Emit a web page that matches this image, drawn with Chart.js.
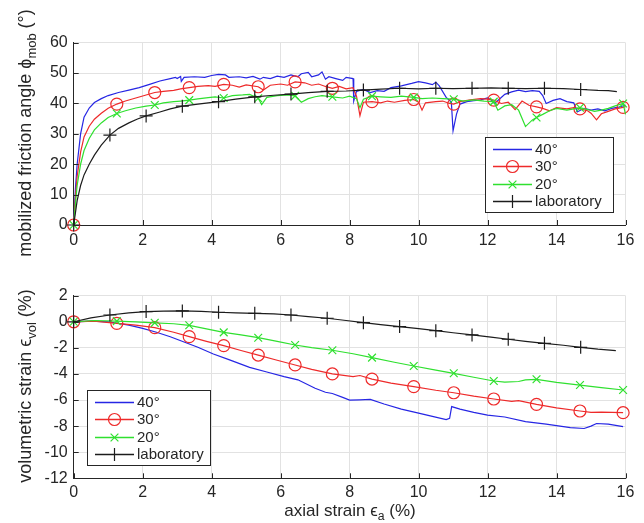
<!DOCTYPE html>
<html>
<head>
<meta charset="utf-8">
<script src="https://cdn.jsdelivr.net/npm/chart.js@4.4.0/dist/chart.umd.min.js"></script>
<style>
  body { margin: 0; background: #fff; font-family: "Liberation Sans", Arial, sans-serif; color: #262626; }
  #wrap { position: relative; width: 644px; height: 523px; overflow: hidden; }
  .panel { position: absolute; left: 0; width: 644px; }
  .title { position: absolute; font-size: 17px; white-space: nowrap; line-height: 1; }
  .ytitle { font-size: 18px; transform: translate(-50%, -50%) rotate(-90deg); }
  .xtitle { transform: translate(-50%, -50%); }
  .title sub { font-size: 72%; vertical-align: -0.35em; line-height: 0; }
</style>
</head>
<body>
<div id="wrap">
  <div class="panel" style="top:0;height:260px"><canvas id="phiChart"></canvas></div>
  <div class="panel" style="top:260px;height:263px"><canvas id="volChart"></canvas></div>
  <div class="title ytitle" style="left:25px;top:133px">mobilized friction angle ϕ<sub>mob</sub> (°)</div>
  <div class="title ytitle" style="left:25px;top:386px">volumetric strain ϵ<sub>vol</sub> (%)</div>
  <div class="title xtitle" style="left:350px;top:510px">axial strain ϵ<sub>a</sub> (%)</div>
</div>
<script>
const seriesNames = ['40°', '30°', '20°', 'laboratory'];

// strain values where markers sit on the curves
const simMarks = [0, 1.25, 2.35, 3.35, 4.35, 5.35, 6.42, 7.5, 8.65, 9.86, 11.02, 12.18, 13.42, 14.68, 15.93];
const labMarks = [0, 1.05, 2.1, 3.15, 4.2, 5.25, 6.3, 7.35, 8.4, 9.45, 10.5, 11.55, 12.6, 13.65, 14.7];

// mobilized friction angle (deg) vs axial strain (%)
const phi40X = [0, 0.05, 0.1, 0.2, 0.3, 0.45, 0.6, 0.8, 1.0, 1.3, 1.6, 1.9, 2.2, 2.5, 2.8, 2.95, 3.0, 3.1, 3.12, 3.2,
  3.5, 3.8, 4.0, 4.2, 4.4, 4.5, 4.8, 5.0, 5.2, 5.4, 5.5, 5.7, 5.9, 6.1, 6.3, 6.5, 6.6, 6.8, 6.9, 7.1,
  7.2, 7.3, 7.4, 7.6, 7.8, 7.9, 8.1, 8.12, 8.2, 8.4, 8.6, 8.8, 9.0, 9.2, 9.5, 9.8, 10.0, 10.2, 10.4, 10.5,
  10.6, 10.8, 10.95, 11.0, 11.1, 11.2, 11.4, 11.6, 11.8, 12.0, 12.1, 12.2, 12.3, 12.5, 12.7, 12.9, 13.1, 13.3, 13.5, 13.6,
  13.7, 13.9, 14.1, 14.3, 14.5, 14.6, 14.8, 15.0, 15.2, 15.4, 15.6, 15.8, 16.0];
const phi40Y = [0, 12, 20, 30, 35.5, 38.5, 40.3, 41.6, 42.6, 43.6, 44.4, 45.2, 46.3, 47.4, 48.2, 48.6, 48.2, 48.9, 47.3, 48.6,
  48.8, 48.6, 49.2, 49.6, 49.4, 48.6, 48.8, 48.4, 48.9, 48.0, 48.6, 48.2, 49.0, 48.6, 49.4, 48.8, 49.8, 50.2, 48.8, 49.4,
  50.4, 48.0, 48.8, 48.2, 47.6, 48.6, 48.2, 40.8, 44.0, 44.6, 43.6, 44.2, 44.0, 45.2, 45.8, 46.6, 47.2, 46.8, 46.2, 47.0,
  45.8, 42.0, 40.5, 31.0, 36.5, 39.8, 40.6, 40.9, 41.2, 41.8, 41.2, 40.0, 41.0, 43.0, 43.8, 44.4, 43.9, 44.2, 44.0, 42.6,
  40.0, 41.0, 41.6, 40.6, 40.2, 37.2, 38.4, 37.8, 38.2, 37.6, 38.4, 38.8, 39.4];

const phi30X = [0, 0.05, 0.1, 0.2, 0.3, 0.45, 0.6, 0.8, 1.0, 1.25, 1.5, 1.8, 2.1, 2.35, 2.6, 2.9, 3.1, 3.35, 3.6, 3.9,
  4.1, 4.35, 4.6, 4.8, 5.0, 5.35, 5.5, 5.7, 6.0, 6.2, 6.42, 6.7, 6.9, 7.1, 7.3, 7.5, 7.7, 7.9, 8.1, 8.2,
  8.3, 8.4, 8.65, 8.9, 9.1, 9.3, 9.6, 9.86, 10.0, 10.1, 10.2, 10.5, 10.7, 10.9, 11.02, 11.2, 11.5, 11.8, 12.0, 12.18,
  12.4, 12.6, 12.8, 13.0, 13.2, 13.42, 13.6, 13.8, 14.0, 14.3, 14.5, 14.68, 14.9, 15.0, 15.16, 15.3, 15.5, 15.7, 15.93, 16.0];
const phi30Y = [0, 9, 16, 24, 29, 32.5, 34.8, 36.8, 38.4, 39.8, 40.8, 41.8, 42.8, 43.6, 44.0, 44.3, 44.8, 45.2, 45.6, 45.9,
  45.6, 46.3, 46.0, 45.4, 46.1, 45.5, 44.4, 46.0, 46.4, 46.0, 47.1, 46.8, 46.0, 46.4, 45.6, 45.0, 45.6, 44.8, 45.2, 42.4,
  36.0, 40.4, 40.6, 40.2, 40.8, 40.4, 41.0, 41.3, 40.4, 37.8, 40.2, 40.6, 40.8, 40.0, 39.8, 40.6, 41.2, 41.6, 41.4, 41.1,
  40.0, 40.4, 38.0, 40.8, 39.4, 38.9, 38.4, 37.6, 38.6, 38.2, 38.6, 38.2, 37.6, 36.8, 34.6, 36.6, 37.4, 38.2, 38.7, 39.0];

const phi20X = [0, 0.05, 0.1, 0.2, 0.3, 0.45, 0.6, 0.8, 1.0, 1.25, 1.5, 1.8, 2.1, 2.35, 2.6, 2.9, 3.1, 3.35, 3.6, 3.9,
  4.1, 4.35, 4.6, 4.9, 5.1, 5.35, 5.45, 5.6, 5.9, 6.2, 6.42, 6.6, 6.8, 7.0, 7.2, 7.5, 7.8, 8.0, 8.2, 8.3,
  8.4, 8.65, 8.9, 9.2, 9.5, 9.86, 10.1, 10.4, 10.7, 11.02, 11.3, 11.6, 11.9, 12.18, 12.3, 12.5, 12.7, 12.9, 13.1, 13.3,
  13.42, 13.6, 13.8, 14.0, 14.3, 14.5, 14.68, 14.9, 15.1, 15.3, 15.5, 15.7, 15.93, 16.0];
const phi20Y = [0, 7, 13, 20, 24.5, 28.5, 31.3, 33.6, 35.4, 36.7, 37.6, 38.5, 39.1, 39.5, 40.2, 40.6, 40.8, 41.1, 41.5, 41.9,
  42.2, 41.8, 42.6, 42.8, 43.0, 41.7, 39.6, 42.0, 42.6, 42.8, 42.5, 40.4, 41.6, 42.2, 42.6, 42.2, 41.8, 42.4, 41.6, 38.6,
  41.4, 42.4, 42.2, 42.0, 42.4, 42.0, 41.6, 41.8, 41.6, 41.4, 40.8, 41.2, 40.8, 40.6, 37.8, 39.2, 39.6, 37.8, 32.4, 34.6,
  35.4, 36.4, 37.6, 38.4, 37.8, 38.2, 38.6, 38.0, 37.4, 37.8, 38.4, 39.2, 40.0, 36.4];

const phiLabX = [0, 0.05, 0.1, 0.2, 0.3, 0.45, 0.6, 0.8, 1.05, 1.3, 1.6, 1.85, 2.1, 2.5, 2.8, 3.15, 3.6, 3.9, 4.2, 4.7,
  5.25, 5.8, 6.3, 6.8, 7.35, 7.9, 8.4, 8.9, 9.45, 10.0, 10.5, 11.0, 11.55, 12.1, 12.6, 13.1, 13.65, 14.2, 14.7, 15.2, 15.5, 15.75];
const phiLabY = [0, 4, 8, 13, 16.5, 20, 23, 26.3, 29.6, 31.8, 33.6, 34.9, 35.9, 37.2, 38.2, 39.1, 39.8, 40.2, 40.6, 41.4,
  42.2, 42.7, 43.1, 43.6, 44.0, 44.1, 44.4, 44.7, 45.0, 44.8, 45.0, 44.9, 45.0, 45.1, 45.0, 44.9, 45.0, 44.9, 44.6, 44.3, 44.2, 43.9];

// volumetric strain (%) vs axial strain (%)
const vol40X = [0, 0.5, 1.0, 1.25, 1.6, 2.0, 2.4, 2.8, 3.2, 3.6, 4.05, 4.5, 5.1, 5.6, 6.1, 6.5, 7.0, 7.3, 7.5, 7.8,
  8.0, 8.3, 8.6, 9.0, 9.5, 10.0, 10.4, 10.8, 10.9, 10.96, 11.2, 11.6, 12.0, 12.5, 13.1, 13.7, 14.4, 14.8, 15.0, 15.16, 15.5, 15.93];
const vol40Y = [0, 0.05, 0.0, -0.1, -0.25, -0.5, -0.8, -1.15, -1.55, -1.95, -2.47, -2.9, -3.49, -3.85, -4.2, -4.45, -5.1, -5.4, -5.5, -5.8,
  -6.0, -5.98, -5.95, -6.3, -6.7, -7.0, -7.25, -7.5, -7.4, -6.5, -6.7, -6.95, -7.15, -7.3, -7.66, -7.85, -8.12, -8.18, -8.0, -7.8, -7.85, -8.04];

const vol30X = [0, 0.6, 1.25, 1.8, 2.35, 2.9, 3.35, 3.85, 4.35, 4.85, 5.35, 5.9, 6.42, 6.9, 7.5, 8.1, 8.3, 8.65, 9.2, 9.86,
  10.5, 11.02, 11.6, 12.18, 12.7, 12.9, 13.42, 14.0, 14.68, 15.0, 15.3, 15.93];
const vol30Y = [0, 0.05, -0.12, -0.25, -0.45, -0.8, -1.14, -1.5, -1.83, -2.2, -2.55, -2.95, -3.31, -3.65, -4.0, -4.2, -4.12, -4.39, -4.7, -4.97,
  -5.25, -5.44, -5.7, -5.92, -6.1, -6.05, -6.33, -6.6, -6.84, -6.95, -6.92, -6.97];

const vol20X = [0, 0.6, 1.25, 1.8, 2.35, 2.9, 3.35, 3.85, 4.35, 4.85, 5.35, 5.9, 6.42, 6.9, 7.5, 8.1, 8.65, 9.3, 9.86, 10.5,
  11.02, 11.6, 12.18, 12.5, 12.9, 13.1, 13.42, 14.0, 14.68, 15.3, 15.93];
const vol20Y = [0, 0.1, 0.05, 0.0, -0.08, -0.15, -0.27, -0.55, -0.81, -1.0, -1.22, -1.5, -1.78, -1.98, -2.18, -2.45, -2.75, -3.1, -3.39, -3.7,
  -3.95, -4.25, -4.54, -4.62, -4.58, -4.45, -4.41, -4.65, -4.85, -5.05, -5.23];

const volLabX = [0, 0.5, 1.05, 1.6, 2.1, 2.6, 3.15, 3.7, 4.2, 4.7, 5.25, 5.8, 6.3, 6.8, 7.35, 7.9, 8.4, 8.9, 9.45, 10.0,
  10.5, 11.0, 11.55, 12.1, 12.6, 13.1, 13.65, 14.2, 14.7, 15.2, 15.72];
const volLabY = [0, 0.3, 0.52, 0.68, 0.78, 0.82, 0.83, 0.8, 0.73, 0.69, 0.65, 0.6, 0.52, 0.4, 0.27, 0.1, -0.07, -0.22, -0.37, -0.52,
  -0.68, -0.84, -1.01, -1.17, -1.34, -1.5, -1.65, -1.8, -1.96, -2.1, -2.21];

const looks = [
  { color: '#2626e4', marker: null, radius: 0 },
  { color: '#ee2a2a', marker: 'circle', radius: 6 },
  { color: '#2fe02f', marker: 'crossRot', radius: 5.5 },
  { color: '#1c1c1c', marker: 'cross', radius: 6.5 }
];
const FONT = '"Liberation Sans", Arial, sans-serif';
const INK = '#262626';

const pts = (xs, ys) => xs.map((x, i) => ({ x: x, y: ys[i] }));

function series(i, xs, ys, marks) {
  const lk = looks[i];
  return {
    label: seriesNames[i],
    data: pts(xs, ys),
    order: 4 - i,
    borderColor: lk.color,
    borderWidth: 1.2,
    tension: 0,
    fill: false,
    clip: false,
    pointStyle: lk.marker || 'circle',
    pointRadius: c => (marks && c.raw && marks.includes(c.raw.x)) ? lk.radius : 0,
    pointHoverRadius: 0,
    pointBorderColor: lk.color,
    pointBackgroundColor: 'rgba(0,0,0,0)',
    pointBorderWidth: 1.2
  };
}

function drawMarker(ctx, style, r, x, y) {
  ctx.beginPath();
  if (style === 'circle') {
    ctx.arc(x, y, r, 0, Math.PI * 2);
  } else if (style === 'cross') {
    ctx.moveTo(x - r, y); ctx.lineTo(x + r, y);
    ctx.moveTo(x, y - r); ctx.lineTo(x, y + r);
  } else if (style === 'crossRot') {
    const d = r * Math.SQRT1_2;
    ctx.moveTo(x - d, y - d); ctx.lineTo(x + d, y + d);
    ctx.moveTo(x - d, y + d); ctx.lineTo(x + d, y - d);
  }
  ctx.stroke();
}

// boxed legend with a line sample and a marker per entry
const boxLegend = {
  id: 'boxLegend',
  afterDraw(chart, args, o) {
    const ctx = chart.ctx;
    ctx.save();
    ctx.fillStyle = '#fff';
    ctx.fillRect(o.left, o.top, o.width, o.height);
    ctx.strokeStyle = INK;
    ctx.lineWidth = 1;
    ctx.strokeRect(Math.round(o.left) + 0.5, Math.round(o.top) + 0.5, o.width, o.height);
    ctx.font = '15px ' + FONT;
    ctx.textBaseline = 'middle';
    seriesNames.forEach((name, i) => {
      const lk = looks[i];
      const y = Math.round(o.top + 11.5 + i * 17.5) + 0.5;
      const x0 = o.left + 8, x1 = o.left + 47;
      ctx.strokeStyle = lk.color;
      ctx.lineWidth = 1.4;
      ctx.beginPath();
      ctx.moveTo(x0, y); ctx.lineTo(x1, y);
      ctx.stroke();
      ctx.lineWidth = 1.2;
      if (lk.marker) drawMarker(ctx, lk.marker, lk.radius, (x0 + x1) / 2, y);
      ctx.fillStyle = INK;
      ctx.fillText(name, o.left + 50, y + 0.5);
    });
    ctx.restore();
  }
};

// tick marks pointing into the plot on the left and bottom axes
const inwardTicks = {
  id: 'inwardTicks',
  afterDatasetsDraw(chart) {
    const { ctx, chartArea: a, scales } = chart;
    ctx.save();
    ctx.strokeStyle = INK;
    ctx.lineWidth = 1;
    ctx.beginPath();
    scales.x.ticks.forEach(t => {
      const px = Math.round(scales.x.getPixelForValue(t.value)) + 0.5;
      ctx.moveTo(px, a.bottom); ctx.lineTo(px, a.bottom - 5);
    });
    scales.y.ticks.forEach(t => {
      const py = Math.round(scales.y.getPixelForValue(t.value)) + 0.5;
      ctx.moveTo(a.left, py); ctx.lineTo(a.left + 5, py);
    });
    ctx.stroke();
    ctx.restore();
  }
};

function makeChart(id, datasets, yMin, yMax, yStep, lay, legendBox) {
  return new Chart(document.getElementById(id), {
    type: 'line',
    data: { datasets: datasets },
    plugins: [inwardTicks, boxLegend],
    options: {
      responsive: true,
      maintainAspectRatio: false,
      animation: false,
      events: [],
      layout: { padding: { left: 0, right: 18.5, top: lay.top, bottom: 0 } },
      plugins: { legend: { display: false }, tooltip: { enabled: false }, boxLegend: legendBox },
      scales: {
        x: {
          type: 'linear', min: 0, max: 16,
          ticks: { stepSize: 2, color: INK, padding: lay.xPad, maxRotation: 0, font: { family: FONT, size: 16 } },
          grid: { color: '#e2e2e2', drawTicks: false },
          border: { display: true, color: INK, width: 1 },
          afterFit: s => { s.height = lay.xHeight; s.paddingLeft = 0; s.paddingRight = 0; }
        },
        y: {
          type: 'linear', min: yMin, max: yMax,
          ticks: { stepSize: yStep, color: INK, padding: 6, font: { family: FONT, size: 16 } },
          grid: { color: '#e2e2e2', drawTicks: false },
          border: { display: true, color: INK, width: 1 },
          afterFit: s => { s.width = 73.7; s.paddingTop = 0; s.paddingBottom = 0; }
        }
      }
    }
  });
}

makeChart('phiChart', [
  series(0, phi40X, phi40Y, null),
  series(1, phi30X, phi30Y, simMarks),
  series(2, phi20X, phi20Y, simMarks),
  series(3, phiLabX, phiLabY, labMarks)
], 0, 60, 10, { top: 42.7, xHeight: 35, xPad: 6 },
  { left: 485, top: 137, width: 128, height: 75 });

makeChart('volChart', [
  series(0, vol40X, vol40Y, null),
  series(1, vol30X, vol30Y, simMarks),
  series(2, vol20X, vol20Y, simMarks),
  series(3, volLabX, volLabY, labMarks)
], -12, 2, 2, { top: 35.7, xHeight: 44.7, xPad: 5 },
  { left: 87, top: 130, width: 123, height: 75 });
</script>
</body>
</html>
